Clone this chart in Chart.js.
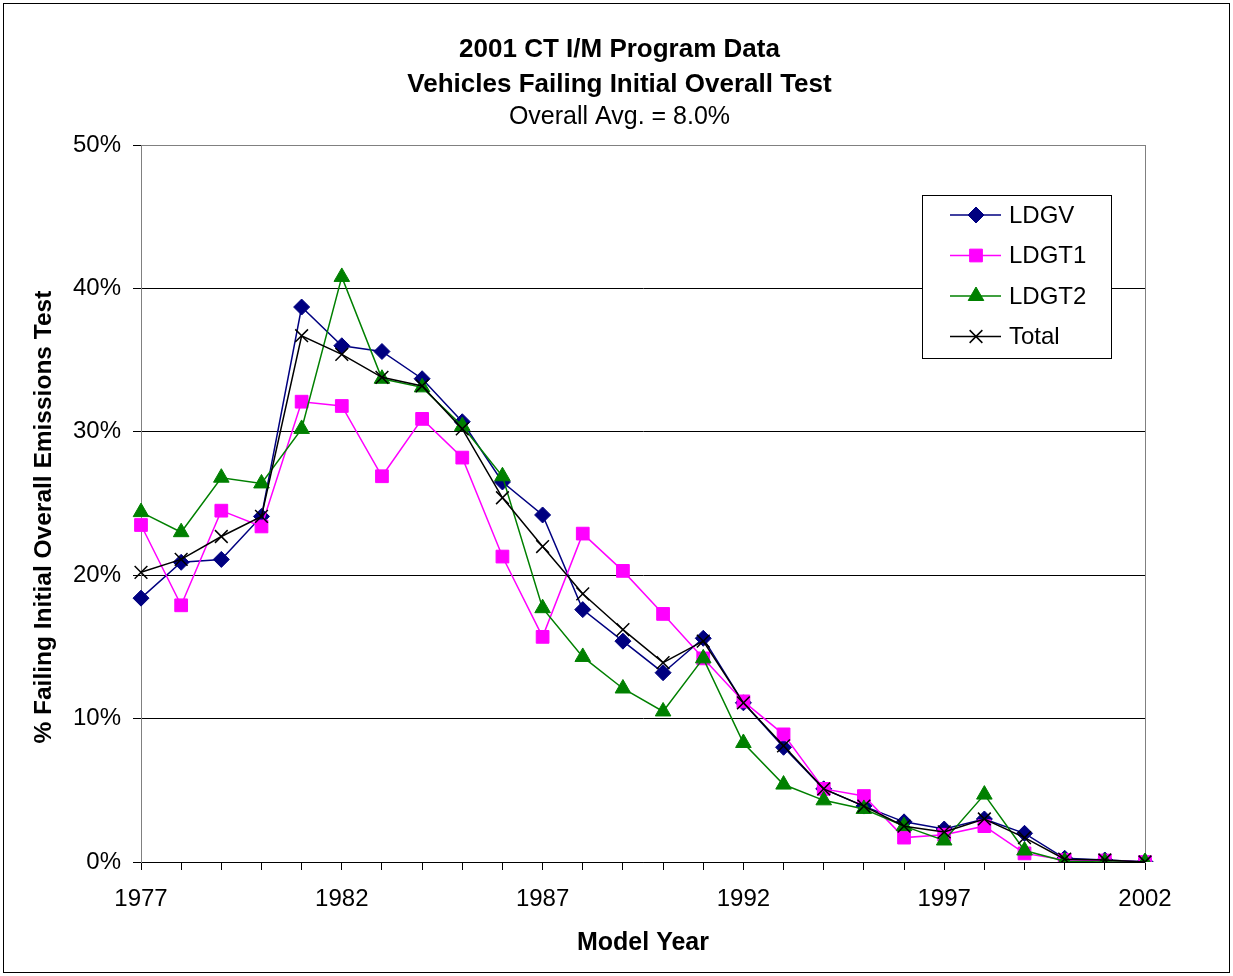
<!DOCTYPE html>
<html>
<head>
<meta charset="utf-8">
<script src="https://cdn.jsdelivr.net/npm/chart.js@4/dist/chart.umd.min.js"></script>
<style>
  body { margin: 0; background: #fff; }
  canvas { display: block; }
</style>
</head>
<body>
<canvas id="failChart" width="1233" height="976"></canvas>
<script>
const years = ["1977", "1978", "1979", "1980", "1981", "1982", "1983", "1984", "1985", "1986", "1987", "1988", "1989",
  "1990", "1991", "1992", "1993", "1994", "1995", "1996", "1997", "1998", "1999", "2000", "2001", "2002"];
const ldgv = [18.4, 20.9, 21.1, 24.1, 38.7, 36.0, 35.6, 33.7, 30.7, 26.5, 24.2, 17.6, 15.4,
  13.2, 15.6, 11.1, 8.0, 5.1, 3.9, 2.8, 2.3, 3.0, 2.0, 0.26, 0.14, 0.02];
const ldgt1 = [23.5, 17.9, 24.5, 23.4, 32.1, 31.8, 26.9, 30.9, 28.2, 21.3, 15.7, 22.9, 20.3,
  17.3, 14.2, 11.2, 8.9, 5.1, 4.6, 1.7, 1.9, 2.5, 0.6, 0.14, 0.1, 0.0];
const ldgt2 = [24.4, 23.0, 26.8, 26.4, 30.2, 40.8, 33.7, 33.1, 30.4, 26.9, 17.7, 14.3, 12.1,
  10.5, 14.2, 8.3, 5.4, 4.3, 3.7, 2.5, 1.5, 4.7, 0.8, 0.05, 0.0, 0.0];
const total = [20.2, 21.1, 22.7, 24.1, 36.7, 35.4, 33.8, 33.2, 30.2, 25.4, 22.0, 18.7, 16.2,
  13.9, 15.4, 11.1, 8.1, 5.1, 3.9, 2.5, 2.1, 3.0, 1.7, 0.2, 0.14, 0.0];
const yTicks = [0, 10, 20, 30, 40, 50];

const fontFamily = "'Liberation Sans', Arial, sans-serif";

// legend drawn inside the plot, with line + marker samples
const boxLegend = {
  id: "boxLegend",
  afterDatasetsDraw(chart) {
    const c = chart.ctx;
    const area = chart.chartArea;
    const x0 = area.right - 223;
    const y0 = area.top + 50;
    c.save();
    c.fillStyle = "#fff";
    c.fillRect(x0, y0, 189, 163);
    c.strokeStyle = "#000";
    c.lineWidth = 1;
    c.strokeRect(x0 + 0.5, y0 + 0.5, 189, 163);
    chart.data.datasets.forEach((ds, i) => {
      const y = y0 + 20 + i * 40.5;
      c.strokeStyle = ds.borderColor;
      c.lineWidth = 1.5;
      c.beginPath();
      c.moveTo(x0 + 28, y);
      c.lineTo(x0 + 79, y);
      c.stroke();
      c.fillStyle = ds.borderColor;
      c.strokeStyle = ds.borderColor;
      c.lineWidth = ds.pointBorderWidth;
      Chart.helpers.drawPoint(c, {
        pointStyle: ds.pointStyle,
        radius: ds.legendRadius,
        borderWidth: ds.pointBorderWidth
      }, x0 + 54, y);
      c.fillStyle = "#000";
      c.font = "24px " + fontFamily;
      c.textBaseline = "middle";
      c.fillText(ds.label, x0 + 87, y + 1);
    });
    c.restore();
  },
  afterDraw(chart) {
    const c = chart.ctx;
    const area = chart.chartArea;
    c.save();
    c.strokeStyle = "#808080";
    c.lineWidth = 1;
    c.beginPath();
    c.moveTo(area.left, area.top + 0.5);
    c.lineTo(area.right, area.top + 0.5);
    c.stroke();
    c.strokeStyle = "#000";
    c.strokeRect(3.5, 3.5, 1226, 969);
    c.restore();
  }
};

const ctx = document.getElementById("failChart").getContext("2d");
const failChart = new Chart(ctx, {
  type: "line",
  data: {
    labels: years,
    datasets: [
      {
        label: "LDGV",
        data: ldgv,
        borderColor: "#000080",
        backgroundColor: "#000080",
        pointStyle: "rectRot",
        pointRadius: 8,
        legendRadius: 8,
        pointBorderWidth: 1,
        borderWidth: 1.5,
        order: 3
      },
      {
        label: "LDGT1",
        data: ldgt1,
        borderColor: "#ff00ff",
        backgroundColor: "#ff00ff",
        pointStyle: "rect",
        pointRadius: 9,
        legendRadius: 9,
        pointBorderWidth: 1,
        borderWidth: 1.5,
        order: 2
      },
      {
        label: "LDGT2",
        data: ldgt2,
        borderColor: "#008000",
        backgroundColor: "#008000",
        pointStyle: "triangle",
        pointRadius: 9,
        legendRadius: 9,
        pointBorderWidth: 1,
        borderWidth: 1.5,
        order: 1
      },
      {
        label: "Total",
        data: total,
        borderColor: "#000",
        backgroundColor: "#000",
        pointStyle: "crossRot",
        pointRadius: 9,
        legendRadius: 9,
        pointBorderWidth: 1.5,
        borderWidth: 1.5,
        order: 0
      }
    ]
  },
  options: {
    responsive: false,
    animation: false,
    layout: {
      padding: { top: 8, left: 6, right: 0, bottom: 0 }
    },
    elements: {
      line: { tension: 0, fill: false }
    },
    plugins: {
      legend: { display: false },
      tooltip: { enabled: false },
      title: {
        display: true,
        text: ["2001 CT I/M Program Data", "Vehicles Failing Initial Overall Test"],
        color: "#000",
        font: { family: fontFamily, size: 26, weight: "bold", lineHeight: 35 / 26 },
        padding: { top: 24, bottom: 0 }
      },
      subtitle: {
        display: true,
        text: "Overall Avg. = 8.0%",
        color: "#000",
        font: { family: fontFamily, size: 25, weight: "normal", lineHeight: 1.2 },
        padding: { top: 0, bottom: 13 }
      }
    },
    scales: {
      x: {
        type: "category",
        offset: false,
        grid: {
          drawOnChartArea: false,
          drawTicks: true,
          tickLength: 8,
          color: "#000"
        },
        border: { color: "#000", width: 1 },
        ticks: {
          autoSkip: false,
          maxRotation: 0,
          padding: 15,
          color: "#000",
          font: { family: fontFamily, size: 24 },
          callback: function (value, index) {
            return index % 5 === 0 ? years[index] : "";
          }
        },
        title: {
          display: true,
          text: "Model Year",
          color: "#000",
          font: { family: fontFamily, size: 25, weight: "bold", lineHeight: 1.2 },
          padding: { top: 0, bottom: 18 }
        },
        afterFit: (scale) => { scale.height = 114; }
      },
      y: {
        min: 0,
        max: 50,
        afterBuildTicks: (scale) => {
          scale.ticks = yTicks.map((v) => ({ value: v }));
        },
        grid: {
          color: "#000",
          lineWidth: 1,
          tickLength: 8
        },
        border: { color: "#808080", width: 1 },
        ticks: {
          padding: 12,
          color: "#000",
          font: { family: fontFamily, size: 24 },
          callback: (v) => v + "%"
        },
        title: {
          display: true,
          // trailing no-break spaces nudge the centred title a little lower, as in the original
          text: "% Failing Initial Overall Emissions Test\u00a0\u00a0\u00a0\u00a0",
          color: "#000",
          font: { family: fontFamily, size: 24.5, weight: "bold", lineHeight: 1.2 },
          padding: { top: 24, bottom: 0 }
        },
        afterFit: (scale) => { scale.width = 135; }
      },
      yRight: {
        position: "right",
        min: 0,
        max: 50,
        grid: { drawOnChartArea: false, drawTicks: false },
        border: { color: "#808080", width: 1 },
        ticks: { display: false },
        afterFit: (scale) => { scale.width = 88; }
      }
    }
  },
  plugins: [boxLegend]
});
</script>
</body>
</html>
